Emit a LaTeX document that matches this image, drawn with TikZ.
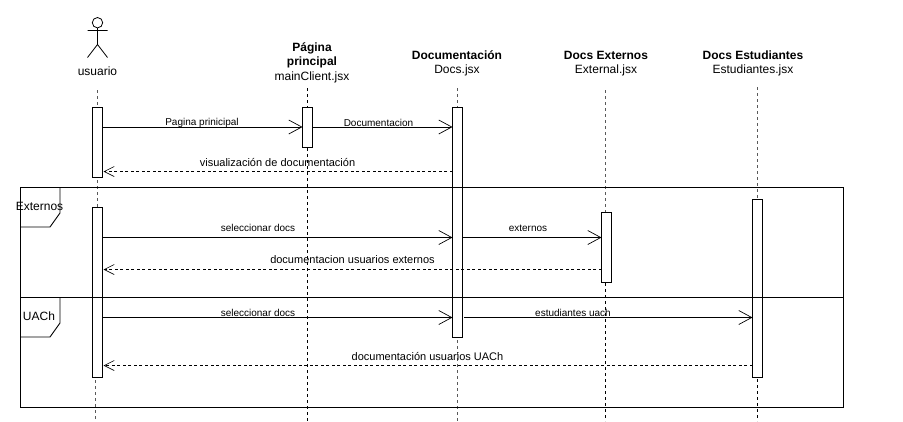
\documentclass[tikz,border=0pt]{standalone}
\usepackage{fontspec}
\setmainfont{Liberation Sans}
\usetikzlibrary{arrows.meta}
\tikzset{
  x=1pt,y=-1pt,
  lifegray/.style={draw=black!65,line width=1pt,dash pattern=on 3pt off 3pt},
  lifeblack/.style={draw=black,line width=0.8pt,dash pattern=on 3pt off 3pt},
  bar/.style={draw=black,fill=white,line width=1pt,minimum width=10pt,inner sep=0pt,outer sep=0pt,anchor=north},
  msg/.style={draw=black,line width=0.9pt,-{Straight Barb[length=13pt,width=14pt,line width=0.7pt]}},
  ret/.style={draw=black,line width=0.8pt,dash pattern=on 3pt off 2.5pt,-{Straight Barb[length=10pt,width=10pt,line width=0.6pt,sep=0pt]}},
  frameline/.style={draw=black,line width=0.9pt},
  head/.style={font=\fontsize{12}{14}\selectfont\bfseries,align=center,inner sep=0pt},
  sub/.style={font=\fontsize{12}{14}\selectfont,inner sep=0pt},
  small/.style={font=\fontsize{10}{12}\selectfont,inner sep=0pt},
  mid/.style={font=\fontsize{11}{13}\selectfont,inner sep=0pt},
}
\begin{document}
\begin{tikzpicture}
\useasboundingbox[fill=white] (0,0) rectangle (903,421);
% named lifeline ends
\coordinate (ut) at (97.5,90);
\coordinate (ub) at (95,421);
\coordinate (pt) at (307.5,88);
\coordinate (pb) at (307.5,421);
\coordinate (dt) at (457,88);
\coordinate (db) at (457,421);
\coordinate (et) at (605.7,90);
\coordinate (eb) at (605.7,421);
\coordinate (st) at (757,87);
\coordinate (sb) at (757,421);
% lifelines
\draw[lifegray] (ut) -- (97.5,207);
\draw[lifegray] (95,380) -- (ub);
\draw[lifeblack] (pt) -- (pb);
\draw[lifegray] (dt) -- (457,107);
\draw[lifegray] (457,340) -- (db);
\draw[lifegray] (et) -- (605.7,212);
\draw[lifeblack] (605.7,283) -- (eb);
\draw[lifegray] (st) -- (757,199);
\draw[lifeblack] (757,379) -- (sb);
% activation bars
\node[bar,minimum height=70pt] (u1) at (97.5,107.5) {};
\node[bar,minimum height=170pt] (u2) at (97.5,207.5) {};
\node[bar,minimum height=40pt] (p1) at (307.5,107.5) {};
\node[bar,minimum height=230pt] (d1) at (457.5,107.5) {};
\node[bar,minimum height=70pt] (e1) at (606.5,212.5) {};
\node[bar,minimum height=178pt] (s1) at (757.5,199.5) {};
% frame
\node[inner sep=0pt,outer sep=0pt,minimum width=823.5pt,minimum height=219.5pt,anchor=north west,draw=black,line width=0.9pt] (fr) at (20,187.5) {};
\draw[frameline] (fr.west |- 0,297.5) -- (fr.east |- 0,297.5);
\draw[frameline] (60,187.5) -- (60,213) -- (50,227) -- (20,227);
\draw[frameline] (60,297.5) -- (60,323) -- (50,337) -- (20,337);
\node[sub] (lex) at (39.5,206) {Externos};
\node[sub] (lua) at (39,316.5) {UACh};
% messages
\draw[msg] (u1.east |- 0,127) -- (p1.west |- 0,127);
\draw[msg] (p1.east |- 0,127) -- (d1.west |- 0,127);
\draw[ret] (d1.west |- 0,171.5) -- (103.5,171.5);
\draw[msg] (u2.east |- 0,237.5) -- (d1.west |- 0,237.5);
\draw[msg] (d1.east |- 0,237.5) -- (e1.west |- 0,237.5);
\draw[ret] (e1.west |- 0,269.5) -- (103.5,269.5);
\draw[msg] (u2.east |- 0,317.5) -- (d1.west |- 0,317.5);
\draw[msg] ([xshift=1.5pt]d1.east |- 0,317.5) -- (s1.west |- 0,317.5);
\draw[ret] (s1.west |- 0,365.5) -- (103.5,365.5);
% message labels
\node[small] (m1) at (202,122.5) {Pagina prinicipal};
\node[small] (m2) at (378.5,122.5) {Documentacion};
\node[mid] (m3) at (277.5,162) {visualización de documentación};
\node[small] (m4) at (258,228) {seleccionar docs};
\node[small] (m5) at (528,228) {externos};
\node[mid] (m6) at (352.5,260) {documentacion usuarios externos};
\node[small] (m7) at (258,313) {seleccionar docs};
\node[small] (m8) at (573,313) {estudiantes uach};
\node[mid] (m9) at (427.5,356) {documentación usuarios UACh};
% actor
\draw[line width=0.8pt] (97.5,22.7) circle[radius=5.2];
\draw[line width=0.8pt] (97.5,28) -- (97.5,44.5) (87.5,30.5) -- (107.5,30.5) (87.5,57.5) -- (97.5,44.5) -- (107.5,57.5);
\node[sub] (hu) at (97.5,71) {usuario};
% headers
\node[head] (hp) at (312,55.5) {Página\\principal};
\node[sub] (hpf) at (312,77) {mainClient.jsx};
\node[head] (hd) at (457,55) {Documentación};
\node[sub] (hdf) at (457,70.5) {Docs.jsx};
\node[head] (he) at (606,55) {Docs Externos};
\node[sub] (hef) at (606,70.5) {External.jsx};
\node[head] (hs) at (753,55) {Docs Estudiantes};
\node[sub] (hsf) at (753,70.5) {Estudiantes.jsx};
\end{tikzpicture}
\end{document}
